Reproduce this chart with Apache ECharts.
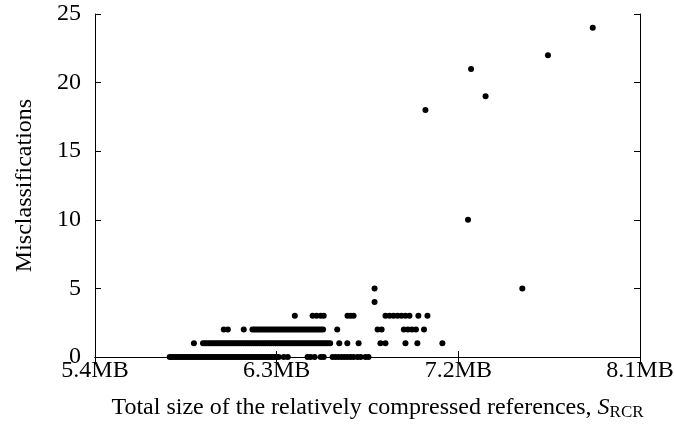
<!DOCTYPE html>
<html>
<head>
<meta charset="utf-8">
<script src="https://cdn.jsdelivr.net/npm/echarts@6/dist/echarts.min.js"></script>
<style>
  html, body { margin: 0; padding: 0; background: #fff; }
  #chart { width: 674px; height: 434px; }
</style>
</head>
<body>
<div id="chart"></div>
<script>
// sizes (MB) of the runs, grouped by number of misclassifications
const sizesAt0 = [5.77, 5.78, 5.79, 5.80, 5.81, 5.82, 5.83, 5.84, 5.85, 5.86, 5.87, 5.88, 5.89, 5.90,
  5.91, 5.92, 5.93, 5.94, 5.95, 5.96, 5.97, 5.98, 5.99, 6.00, 6.01, 6.02, 6.03, 6.04, 6.05, 6.06,
  6.07, 6.08, 6.09, 6.10, 6.11, 6.12, 6.13, 6.14, 6.15, 6.16, 6.17, 6.18, 6.19, 6.20, 6.21, 6.22,
  6.23, 6.24, 6.25, 6.26, 6.27, 6.28, 6.29, 6.30, 6.31, 6.335, 6.355, 6.453, 6.468, 6.488, 6.518,
  6.533, 6.577, 6.592, 6.607, 6.622, 6.636, 6.651, 6.666, 6.681, 6.70, 6.716, 6.74, 6.755];
const sizesAt1 = [5.89, 5.935, 5.945, 5.955, 5.965, 5.975, 5.985, 5.995, 6.005, 6.015, 6.025, 6.035,
  6.045, 6.055, 6.065, 6.075, 6.085, 6.095, 6.105, 6.115, 6.125, 6.135, 6.145, 6.155, 6.165, 6.175,
  6.185, 6.195, 6.205, 6.215, 6.225, 6.235, 6.245, 6.255, 6.265, 6.275, 6.285, 6.295, 6.305, 6.315,
  6.325, 6.335, 6.345, 6.355, 6.365, 6.375, 6.385, 6.395, 6.405, 6.415, 6.425, 6.435, 6.445, 6.455,
  6.465, 6.475, 6.485, 6.495, 6.505, 6.515, 6.525, 6.535, 6.545, 6.555, 6.565, 6.61, 6.65, 6.706,
  6.814, 6.839, 6.938, 6.997, 7.121];
const sizesAt2 = [6.038, 6.058, 6.137, 6.18, 6.19, 6.20, 6.21, 6.22, 6.23, 6.24, 6.25, 6.26, 6.27,
  6.28, 6.29, 6.30, 6.31, 6.32, 6.33, 6.34, 6.35, 6.36, 6.37, 6.38, 6.39, 6.40, 6.41, 6.42, 6.43,
  6.44, 6.45, 6.46, 6.47, 6.48, 6.49, 6.50, 6.51, 6.52, 6.53, 6.60, 6.80, 6.82, 6.93, 6.95, 6.97,
  6.99, 7.03];
const sizesAt3 = [6.39, 6.478, 6.498, 6.518, 6.533, 6.651, 6.666, 6.681, 6.839, 6.859, 6.879, 6.899,
  6.918, 6.938, 6.958, 7.002, 7.047];
const sizesAt4 = [6.785];
const sizesAt5 = [6.785, 7.517];
const outlierSizes = [7.037, 7.248, 7.263, 7.335, 7.644, 7.866];
const outlierMisses = [18, 10, 21, 19, 22, 24];

const xTicks = [5.4, 6.3, 7.2, 8.1];
const yTicks = [0, 5, 10, 15, 20, 25];

const points = [];
[sizesAt0, sizesAt1, sizesAt2, sizesAt3, sizesAt4, sizesAt5].forEach((xs, k) => {
  xs.forEach(x => points.push([x, k]));
});
outlierSizes.forEach((x, i) => points.push([x, outlierMisses[i]]));

const chart = echarts.init(document.getElementById('chart'));
const font = 'Liberation Serif';
const tickIn = { show: true, inside: true, length: 6, lineStyle: { color: '#000' } };

chart.setOption({
  backgroundColor: '#fff',
  animation: false,
  textStyle: { fontFamily: font },
  grid: { left: 95, right: 34, top: 14, bottom: 77, outerBoundsMode: 'none' },
  xAxis: [
    {
      type: 'value',
      min: xTicks[0],
      max: xTicks[xTicks.length - 1],
      interval: 0.9,
      axisLine: { lineStyle: { color: '#000', width: 1 } },
      axisTick: tickIn,
      splitLine: { show: false },
      axisLabel: {
        color: '#000', fontSize: 24, fontFamily: font, margin: 2,
        formatter: v => v.toFixed(1) + 'MB'
      },
      name: '{n|Total size of the relatively compressed references, }{s|S}{sub|RCR}',
      nameLocation: 'middle',
      nameGap: 37,
      nameTextStyle: {
        padding: [0, 0, 0, 20],
        rich: {
          n: { fontSize: 24, fontFamily: font, color: '#000' },
          s: { fontSize: 24, fontFamily: font, fontStyle: 'italic', color: '#000' },
          sub: { fontSize: 17, fontFamily: font, color: '#000', padding: [10, 0, 0, 0] }
        }
      }
    },
    {
      type: 'value',
      position: 'top',
      min: xTicks[0],
      max: xTicks[xTicks.length - 1],
      interval: 0.9,
      axisLine: { show: true, lineStyle: { color: '#000' } },
      axisTick: tickIn,
      axisLabel: { show: false },
      splitLine: { show: false }
    }
  ],
  yAxis: [
    {
      type: 'value',
      min: yTicks[0],
      max: yTicks[yTicks.length - 1],
      interval: 5,
      axisLine: { show: true, lineStyle: { color: '#000' } },
      axisTick: tickIn,
      splitLine: { show: false },
      axisLabel: { color: '#000', fontSize: 24, fontFamily: font, margin: 14 },
      name: 'Misclassifications',
      nameLocation: 'middle',
      nameGap: 58,
      nameTextStyle: { color: '#000', fontSize: 24, fontFamily: font }
    },
    {
      type: 'value',
      position: 'right',
      min: yTicks[0],
      max: yTicks[yTicks.length - 1],
      interval: 5,
      axisLine: { show: true, lineStyle: { color: '#000' } },
      axisTick: tickIn,
      axisLabel: { show: false },
      splitLine: { show: false }
    }
  ],
  series: [
    {
      type: 'scatter',
      data: points,
      symbol: 'circle',
      symbolSize: 6,
      itemStyle: { color: '#000', opacity: 1 }
    }
  ]
});
</script>
</body>
</html>
